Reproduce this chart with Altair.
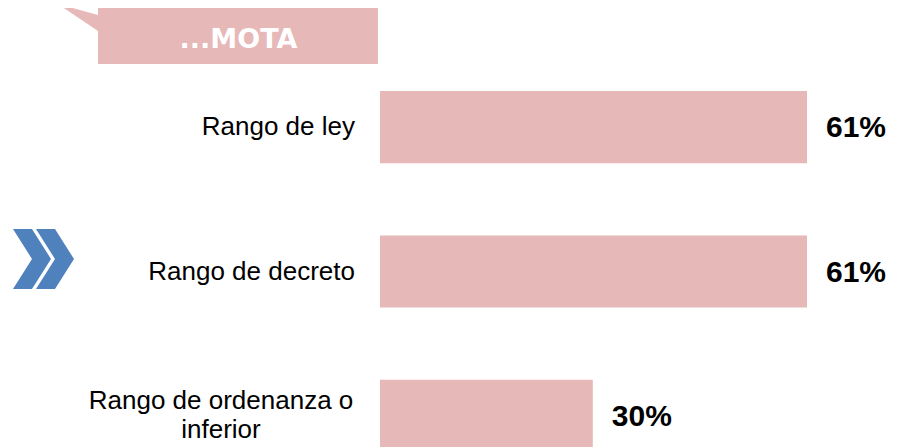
import altair as alt
import pandas as pd

# ---- data ----
categories = ["Rango de ley", "Rango de decreto", "Rango de ordenanza o\ninferior"]
values = [61, 61, 30.4]
value_labels = ["61%", "61%", "30%"]
multiline = [False, False, True]
title_text = "...MOTA"

df = pd.DataFrame({"cat": categories, "val": values, "lbl": value_labels, "multi": multiline})
one = pd.DataFrame({"k": [0]})

PINK = "#E6B8B7"
BLUE = "#4F81BD"
FONT = "Liberation Sans"

xscale = alt.Scale(domain=[-53.143, 72.857], zero=False, nice=False)
yscale = alt.Scale(domain=categories, paddingInner=0.5, paddingOuter=0.574)

base = alt.Chart(df)

bars = base.mark_bar(color=PINK).encode(
    x=alt.X("val:Q", scale=xscale, axis=None),
    x2=alt.datum(0),
    y=alt.Y("cat:N", scale=yscale, axis=None, sort=categories),
)

value_text = base.mark_text(
    align="left", baseline="middle", dx=19, dy=1, font=FONT, fontSize=30,
    fontWeight="bold", color="black"
).encode(
    x=alt.X("val:Q", scale=xscale, axis=None),
    y=alt.Y("cat:N", scale=yscale, axis=None, sort=categories),
    text="lbl:N",
)

cat_single = base.transform_filter("!datum.multi").mark_text(
    align="right", baseline="middle", dx=-25, font=FONT, fontSize=26, color="black"
).encode(
    x=alt.datum(0),
    y=alt.Y("cat:N", scale=yscale, axis=None, sort=categories),
    text="cat:N",
)

cat_multi = base.transform_filter("datum.multi").mark_text(
    align="center", baseline="middle", dx=-159, dy=-14.5, font=FONT, fontSize=26,
    color="black", lineBreak="\n", lineHeight=29
).encode(
    x=alt.datum(0),
    y=alt.Y("cat:N", scale=yscale, axis=None, sort=categories),
    text="cat:N",
)

BUBBLE_PATH = ("M -1 -0.1875 L -0.75 -0.11875 L -0.75 -0.16875 L 1 -0.16875 "
               "L 1 0.1875 L -0.75 0.1875 L -0.75 -0.01875 Z")
bubble = alt.Chart(one).mark_point(
    shape=BUBBLE_PATH, size=102400, filled=True, color=PINK, opacity=1, strokeWidth=0
).encode(x=alt.value(210), y=alt.value(26))

title = alt.Chart(one).mark_text(
    text=title_text, font="DejaVu Sans", fontWeight="bold", fontSize=27,
    color="white", align="center", baseline="alphabetic"
).encode(x=alt.value(230.5), y=alt.value(40))

CHEVRON_PATH = ("M -1 -1 L -0.367 -1 L 0.267 0 L -0.367 1 L -1 1 L -0.367 0 Z "
                "M -0.233 -1 L 0.4 -1 L 1.033 0 L 0.4 1 L -0.233 1 L 0.4 0 Z")
chevron = alt.Chart(one).mark_point(
    shape=CHEVRON_PATH, size=3600, filled=True, color=BLUE, opacity=1, strokeWidth=0
).encode(x=alt.value(35), y=alt.value(251))

chart = alt.layer(bubble, title, chevron, bars, value_text, cat_single, cat_multi).properties(
    width=882, height=527, autosize="none", padding=0
).configure_view(stroke=None)

chart.save("out.html", embed_options={"renderer": "svg", "actions": False})
